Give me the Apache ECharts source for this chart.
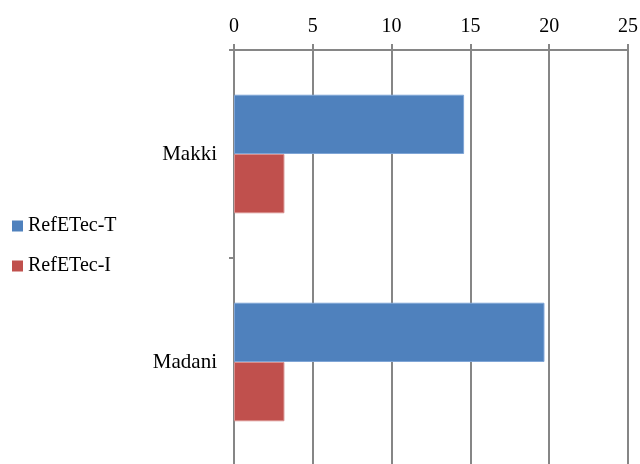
<!DOCTYPE html>
<html>
<head>
<meta charset="utf-8">
<script src="https://cdn.jsdelivr.net/npm/echarts@6/dist/echarts.min.js"></script>
<style>
  html, body { margin: 0; padding: 0; background: #fff; }
  #chart { width: 640px; height: 464px; }
</style>
</head>
<body>
<div id="chart"></div>
<script>
// Reference evapotranspiration by station
const categories = ['Makki', 'Madani'];
const seriesNames = ['RefETec-T', 'RefETec-I'];
const refETecT = [14.6, 19.7];
const refETecI = [3.2, 3.2];
const xTicks = { min: 0, max: 25, interval: 5 };

const FONT = '"Liberation Serif", "Times New Roman", serif';
const chart = echarts.init(document.getElementById('chart'), null, { renderer: 'canvas' });

chart.setOption({
  animation: false,
  backgroundColor: '#ffffff',
  color: ['#4F81BD', '#C0504D'],
  legend: {
    orient: 'vertical',
    left: 12,
    top: 216,
    padding: 0,
    itemWidth: 11,
    itemHeight: 11,
    itemGap: 20,
    icon: 'rect',
    itemStyle: { borderWidth: 0 },
    textStyle: { fontFamily: FONT, fontSize: 20, color: '#000' },
    data: seriesNames
  },
  // plot area runs slightly past the bottom edge of the canvas
  grid: {
    left: 234, top: 50, width: 394, height: 416,
    containLabel: false,
    outerBoundsMode: 'none'
  },
  xAxis: {
    type: 'value',
    position: 'top',
    min: xTicks.min,
    max: xTicks.max,
    interval: xTicks.interval,
    axisLine: { show: true, lineStyle: { color: '#868686', width: 2 } },
    axisTick: { show: true, length: 6, lineStyle: { color: '#868686', width: 2 } },
    axisLabel: { fontFamily: FONT, fontSize: 20, color: '#000', margin: 13 },
    splitLine: { show: true, lineStyle: { color: '#868686', width: 2 } }
  },
  yAxis: {
    type: 'category',
    inverse: true,
    data: categories,
    axisLine: { show: true, lineStyle: { color: '#868686', width: 2 } },
    axisTick: { show: true, length: 5, lineStyle: { color: '#868686', width: 2 } },
    axisLabel: { fontFamily: FONT, fontSize: 21, color: '#000', margin: 17 }
  },
  series: [
    {
      name: seriesNames[0],
      type: 'bar',
      data: refETecT,
      barGap: '0%',
      barCategoryGap: '43%',
      itemStyle: { color: '#4F81BD', borderColor: '#7FA5D6', borderWidth: 1 }
    },
    {
      name: seriesNames[1],
      type: 'bar',
      data: refETecI,
      barGap: '0%',
      barCategoryGap: '43%',
      itemStyle: { color: '#C0504D', borderColor: '#D88F8D', borderWidth: 1 }
    }
  ]
});
</script>
</body>
</html>
